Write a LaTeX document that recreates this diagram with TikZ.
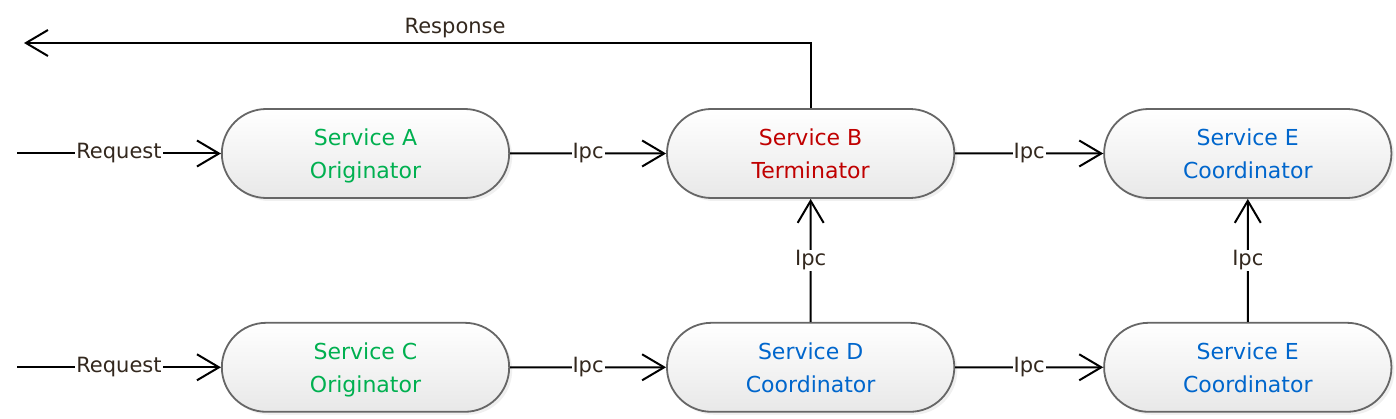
\documentclass[tikz,border=0pt]{standalone}
\usepackage{fontspec}
\setmainfont{DejaVu Sans}
\usetikzlibrary{arrows.meta, positioning, shadows, shapes.misc}
\definecolor{svcgreen}{RGB}{0,176,80}
\definecolor{svcred}{RGB}{192,0,0}
\definecolor{svcblue}{RGB}{0,102,204}
\definecolor{lbltext}{RGB}{51,40,30}

\begin{document}
\begin{tikzpicture}[
  x=1pt, y=1pt,
  service/.style={rounded rectangle, draw=black!60, line width=1.8pt, minimum width=294pt, minimum height=89pt, align=center, text depth=0pt, top color=white, bottom color=black!9, drop shadow={opacity=0.12, shadow xshift=3pt, shadow yshift=-3pt}, font=\fontsize{22}{33}\selectfont},
  flow/.style={line width=2pt, -{Straight Barb[length=22pt, width=26pt, line width=2pt]}},
  lbl/.style={fill=white, inner sep=1pt, text=lbltext, font=\fontsize{21}{23}\selectfont}
]
  \useasboundingbox (0,0) rectangle (1396,418);

  \node[service, text=svcgreen] (sa) at (365.5,264.5) {Service A\\Originator};
  \node[service, text=svcred, right=156pt of sa] (sb) {Service B\\Terminator};
  \node[service, text=svcblue, right=148pt of sb] (se1) {Service E\\Coordinator};
  \node[service, text=svcgreen, below=123pt of sa] (sc) {Service C\\Originator};
  \node[service, text=svcblue, below=123pt of sb] (sd) {Service D\\Coordinator};
  \node[service, text=svcblue, below=123pt of se1] (se2) {Service E\\Coordinator};

  \coordinate (ina) at (17,264.5);
  \coordinate (inc) at (ina |- sc.west);
  \coordinate (resp) at (24,375);

  \draw[flow] (ina) -- node[lbl] {Request} (sa);
  \draw[flow] (inc) -- node[lbl] {Request} (sc);
  \draw[flow] (sa) -- node[lbl] {Ipc} (sb);
  \draw[flow] (sb) -- node[lbl] {Ipc} (se1);
  \draw[flow] (sc) -- node[lbl] {Ipc} (sd);
  \draw[flow] (sd) -- node[lbl] {Ipc} (se2);
  \draw[flow] (sd) -- node[lbl] {Ipc} (sb);
  \draw[flow] (se2) -- node[lbl] {Ipc} (se1);
  \draw[flow] (sb.north) |- node[lbl, fill=none, pos=0.726, above=3pt] {Response} (resp);
\end{tikzpicture}
\end{document}
